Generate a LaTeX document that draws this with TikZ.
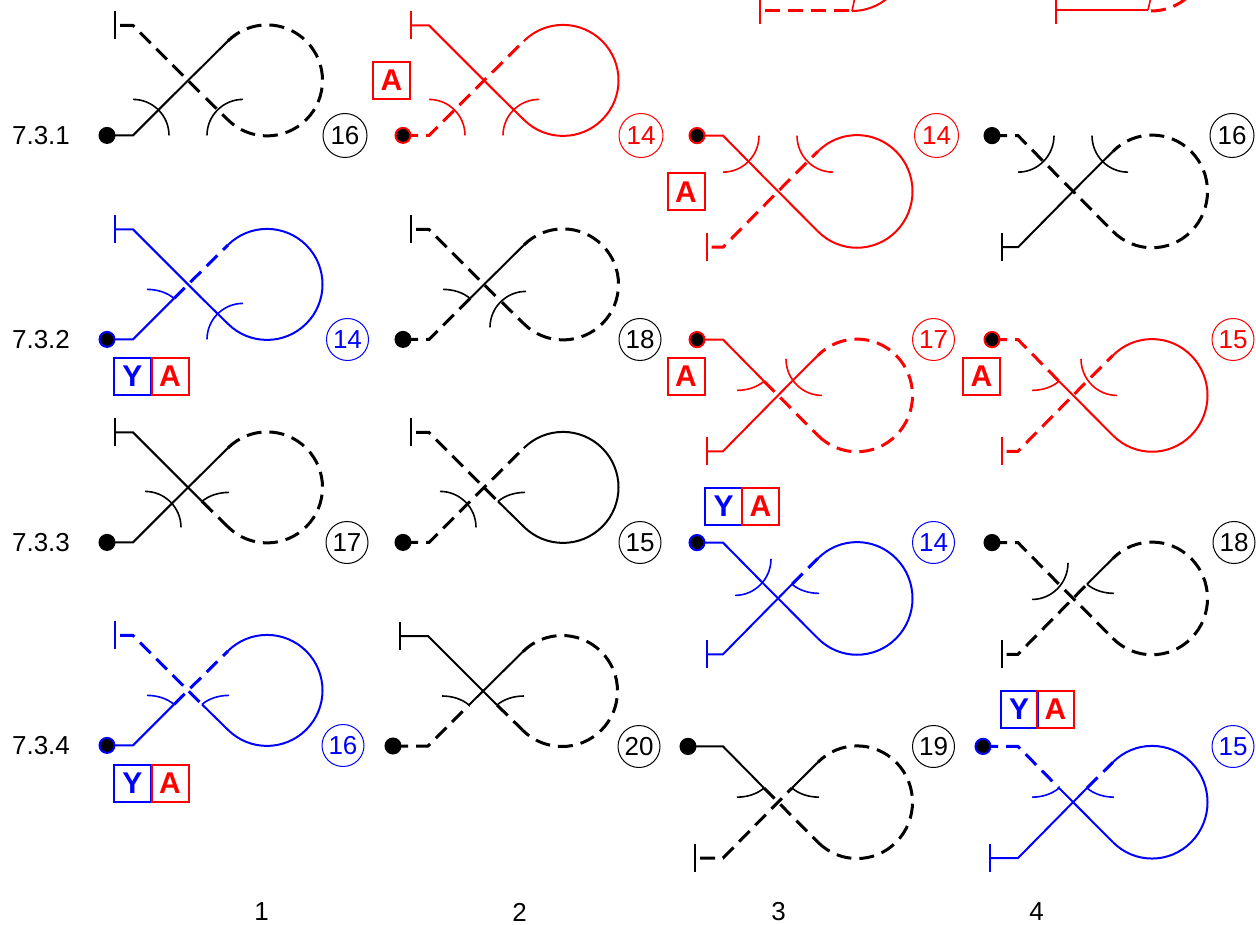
\documentclass[tikz,border=0pt]{standalone}
\usepackage{fontspec}
\setmainfont{Liberation Sans}
\usetikzlibrary{calc}
\tikzset{
	solidseg/.style={line width=2pt},
	dashseg/.style={line width=3pt,dash pattern=on 15pt off 8pt,dash phase=#1 pt},
	dashseg/.default=0,
	tickline/.style={line width=1.6pt},
	endbar/.style={line width=2pt},
	startdot/.style={line width=2pt,fill=black},
	longtail/.code={\def\dotoff{35}\def\baroff{28}},
	shortbar/.code={\def\baroff{16.5}},
	plainlabel/.style={inner sep=0pt,font=\fontsize{26}{26}\selectfont},
	numcirc/.style={draw,circle,line width=1pt,minimum size=42pt,inner sep=0pt,font=\fontsize{26}{26}\selectfont},
	letterbox/.style={draw,line width=2pt,minimum size=37pt,inner sep=0pt,font=\fontsize{30}{30}\bfseries\selectfont},
}
\def\dotoff{26}
\def\baroff{18}
% the crossing marks: a quarter circle around a centre, or the short curve
\newcommand{\tickone}[2]{({#1},{#2+36}) arc[start angle=90,end angle=0,radius=36]}
\newcommand{\ticktwo}[2]{({#1-36},{#2}) arc[start angle=180,end angle=90,radius=36]}
\newcommand{\tickonesmall}{(14,50) .. controls (24,50) and (34,47) .. (41,41)}
\newcommand{\ticktwosmall}{(96,50) .. controls (86,50) and (76,47) .. (69,41)}
% one loop, local origin at the first bend
\newcommand{\knotfig}[8]{%
	\begin{scope}[#1]
		\draw[#2] (-\dotoff,0) -- (0,0) -- (41,41);
		\draw[#3] (41,41) -- (94.76,94.24);
		\draw[#4] (94.76,94.24) arc[start angle=135,end angle=-135,radius=55.5];
		\draw[#5] (69,41) -- (94.76,15.76);
		\draw[#6] (-\baroff,110) -- (0,110) -- (69,41);
		\draw[endbar] (-\baroff,96) -- (-\baroff,124);
		\draw[tickline] #7;
		\draw[tickline] #8;
		\filldraw[startdot] (-\dotoff,0) circle (7.5);
	\end{scope}}
\begin{document}
\begin{tikzpicture}[x=1pt,y=1pt]
	\clip (0,0) rectangle (1256,-925);
	% row and column labels
	\node[plainlabel] (row1) at (41,-135.7) {7.3.1};
	\node[plainlabel] (row2) at (41,-339.7) {7.3.2};
	\node[plainlabel] (row3) at (41,-542.7) {7.3.3};
	\node[plainlabel] (row4) at (41,-745.7) {7.3.4};
	\node[plainlabel] (col1) at (261.5,-912) {1};
	\node[plainlabel] (col2) at (519.5,-912) {2};
	\node[plainlabel] (col3) at (778.5,-912) {3};
	\node[plainlabel] (col4) at (1036.5,-912) {4};
	% first column
	\knotfig{shift={(133,-135.4)}}{solidseg}{solidseg}{dashseg}{dashseg=17.6}{dashseg=18}{\tickone{0}{0}}{\ticktwo{110}{0}}
	\knotfig{shift={(133,-339.4)},color=blue}{solidseg}{dashseg}{solidseg}{solidseg}{solidseg}{\tickonesmall}{\ticktwo{110}{0}}
	\knotfig{shift={(133,-542.4)}}{solidseg}{solidseg}{dashseg}{dashseg}{solidseg}{\tickone{12}{15}}{\ticktwosmall}
	\knotfig{shift={(133,-745.4)},color=blue}{solidseg}{dashseg}{solidseg}{solidseg}{dashseg=18}{\tickonesmall}{\ticktwosmall}
	% second column
	\knotfig{shift={(429,-135.4)},color=red}{dashseg}{dashseg=15}{solidseg}{solidseg}{solidseg}{\tickone{0}{0}}{\ticktwo{110}{0}}
	\knotfig{shift={(429,-339.4)}}{dashseg}{solidseg}{dashseg}{dashseg=17.6}{dashseg=18}{\tickonesmall}{\ticktwo{97}{12}}
	\knotfig{shift={(429,-542.4)}}{dashseg}{dashseg=15}{solidseg}{solidseg}{dashseg=18}{\tickone{11}{15}}{\ticktwosmall}
	\knotfig{shift={(428,-746)},longtail}{dashseg}{solidseg}{dashseg}{dashseg}{solidseg}{\tickonesmall}{\ticktwosmall}
	% third column, the loops turned over
	\knotfig{shift={(723,-135.6)},yscale=-1.015,shortbar,color=red}{solidseg}{solidseg}{solidseg}{dashseg=17.6}{dashseg=18}{\tickone{0}{0}}{\ticktwo{110}{0}}
	\knotfig{shift={(723,-339.6)},yscale=-1.015,shortbar,color=red}{solidseg}{dashseg}{dashseg}{solidseg}{solidseg}{\tickonesmall}{\ticktwo{99}{19}}
	\knotfig{shift={(723,-542.6)},yscale=-1.015,shortbar,color=blue}{solidseg}{solidseg}{solidseg}{dashseg}{solidseg}{\tickone{12}{16}}{\ticktwosmall}
	\knotfig{shift={(723,-746.4)},yscale=-1.015,longtail}{solidseg}{dashseg}{dashseg}{solidseg}{dashseg=18}{\tickonesmall}{\ticktwosmall}
	% fourth column
	\knotfig{shift={(1018,-135.6)},yscale=-1.015,shortbar}{dashseg}{dashseg=15}{dashseg}{solidseg}{solidseg}{\tickone{0}{0}}{\ticktwo{110}{0}}
	\knotfig{shift={(1018,-339.6)},yscale=-1.015,shortbar,color=red}{dashseg}{solidseg}{solidseg}{dashseg=17.6}{dashseg=18}{\tickonesmall}{\ticktwo{99}{19}}
	\knotfig{shift={(1018,-542.6)},yscale=-1.015,shortbar}{dashseg}{dashseg=15}{dashseg}{solidseg}{dashseg=18}{\tickone{14}{20}}{\ticktwosmall}
	\knotfig{shift={(1018,-746.4)},yscale=-1.015,longtail,color=blue}{dashseg}{solidseg}{solidseg}{dashseg}{solidseg}{\tickonesmall}{\ticktwosmall}
	% the two pieces cut off at the top edge
	\draw[red,endbar] (760,3) -- (760,-24);
	\draw[red,dashseg=18] (760,-11) -- (852,-11);
	\draw[red,solidseg] (852,-11) arc[start angle=-90,end angle=-40,radius=55.5];
	\draw[red,tickline] (852,-11) -- (855,3);
	\draw[red,endbar] (1056,3) -- (1056,-24);
	\draw[red,solidseg] (1056,-10) -- (1148,-10);
	\draw[red,tickline] (1148,-10) -- (1151,3);
	\draw[red,dashseg] (1151,-11) arc[start angle=-90,end angle=-40,radius=55.5];
	% crossing counts
	\node[numcirc,minimum size=44pt] (n11) at (345,-135.5) {16};
	\node[numcirc,red,minimum size=44pt] (n21) at (641,-135.5) {14};
	\node[numcirc,red,minimum size=44pt] (n31) at (936.5,-135.5) {14};
	\node[numcirc,minimum size=44pt] (n41) at (1232,-135.5) {16};
	\node[numcirc,blue] (n12) at (347.5,-339.5) {14};
	\node[numcirc] (n22) at (640,-339.5) {18};
	\node[numcirc,red] (n32) at (933.5,-339.5) {17};
	\node[numcirc,red] (n42) at (1233,-339.5) {15};
	\node[numcirc] (n13) at (347,-542.5) {17};
	\node[numcirc] (n23) at (640,-542.5) {15};
	\node[numcirc,blue] (n33) at (933.5,-542.5) {14};
	\node[numcirc] (n43) at (1234,-542.5) {18};
	\node[numcirc,blue] (n14) at (343,-745.5) {16};
	\node[numcirc] (n24) at (639,-746.5) {20};
	\node[numcirc] (n34) at (933.5,-746.5) {19};
	\node[numcirc,blue] (n44) at (1233,-746.5) {15};
	% letter boxes
	\node[letterbox,red] (a21) at (391.5,-80.5) {A};
	\node[letterbox,red] (a31) at (686,-192) {A};
	\node[letterbox,red] (a32) at (686,-376.5) {A};
	\node[letterbox,red] (a42) at (981.5,-376.5) {A};
	\node[letterbox,blue] (y12) at (132.5,-376.5) {Y};
	\node[letterbox,red] (b12) at (170,-376.5) {A};
	\node[letterbox,blue] (y32) at (723.5,-506) {Y};
	\node[letterbox,red] (b32) at (760.5,-506) {A};
	\node[letterbox,blue] (y43) at (1019,-709) {Y};
	\node[letterbox,red] (b43) at (1055.5,-709) {A};
	\node[letterbox,blue] (y14) at (132.5,-783.5) {Y};
	\node[letterbox,red] (b14) at (170,-783.5) {A};
\end{tikzpicture}
\end{document}
